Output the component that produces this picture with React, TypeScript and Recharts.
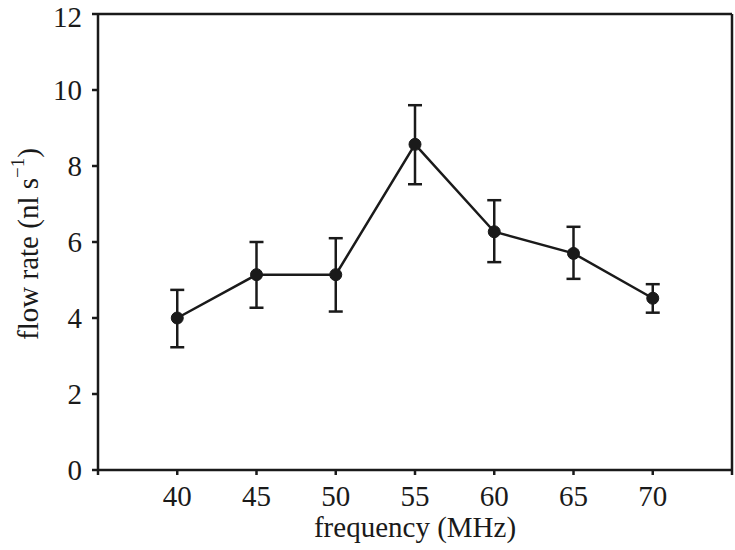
import React from 'react'
import {
  ComposedChart, Line, XAxis, YAxis, ErrorBar, ReferenceLine,
} from 'recharts'

const frequencies = [40, 45, 50, 55, 60, 65, 70]
const flowRate = [4.0, 5.14, 5.14, 8.57, 6.27, 5.7, 4.52]
const errLow = [3.23, 4.27, 4.17, 7.52, 5.47, 5.03, 4.14]
const errHigh = [4.74, 6.0, 6.1, 9.6, 7.1, 6.4, 4.89]
const xTicks = [35, 40, 45, 50, 55, 60, 65, 70, 75]
const yTicks = [0, 2, 4, 6, 8, 10, 12]

const data = frequencies.map((f, i) => ({
  freq: f,
  rate: flowRate[i],
  err: [flowRate[i] - errLow[i], errHigh[i] - flowRate[i]],
}))

const INK = '#1a1a1a'
const FONT = '"Liberation Serif", "DejaVu Serif", serif'
const FS = 29

function YLabel({ viewBox }: any) {
  const cx = 28
  const cy = viewBox.y + viewBox.height / 2 + 2
  return (
    <text
      x={cx} y={cy}
      transform={`rotate(-90, ${cx}, ${cy})`}
      textAnchor="middle" dominantBaseline="central"
      fontFamily={FONT} fontSize={FS} fill={INK}
    >
      flow rate (nl s<tspan dy={-11} fontSize={19}>−1</tspan><tspan dy={11}>)</tspan>
    </text>
  )
}

function XLabel({ viewBox }: any) {
  const cx = viewBox.x + viewBox.width / 2
  return (
    <text x={cx} y={537} textAnchor="middle" fontFamily={FONT} fontSize={FS} fill={INK}>
      frequency (MHz)
    </text>
  )
}

export default function App() {
  return (
    <div style={{ position: 'absolute', left: 0, top: 0, background: '#fff' }}>
      <ComposedChart
        width={735} height={550} data={data}
        margin={{ top: 14, right: 3, left: 0, bottom: 0 }}
      >
        <XAxis
          dataKey="freq" type="number" domain={[35, 75]} ticks={xTicks}
          allowDataOverflow
          tickFormatter={v => (v === 35 || v === 75 ? '' : String(v))}
          stroke={INK} strokeWidth={2.5} tickSize={5} tickMargin={10}
          tick={{ fontSize: FS, fill: INK, fontFamily: FONT }}
          height={80}
          label={<XLabel />}
        />
        <YAxis
          type="number" domain={[0, 12]} ticks={yTicks}
          stroke={INK} strokeWidth={2.5} tickSize={6} tickMargin={10}
          tick={{ fontSize: FS, fill: INK, fontFamily: FONT }}
          width={98}
          label={<YLabel />}
        />
        <ReferenceLine y={12} stroke={INK} strokeWidth={2.5} />
        <ReferenceLine x={75} stroke={INK} strokeWidth={2.5} />
        <Line
          dataKey="rate" stroke={INK} strokeWidth={2.5}
          dot={{ r: 6, fill: INK, stroke: INK, strokeWidth: 1 }}
          isAnimationActive={false}
        >
          <ErrorBar dataKey="err" direction="y" width={7} stroke={INK} strokeWidth={2.5} />
        </Line>
      </ComposedChart>
    </div>
  )
}
